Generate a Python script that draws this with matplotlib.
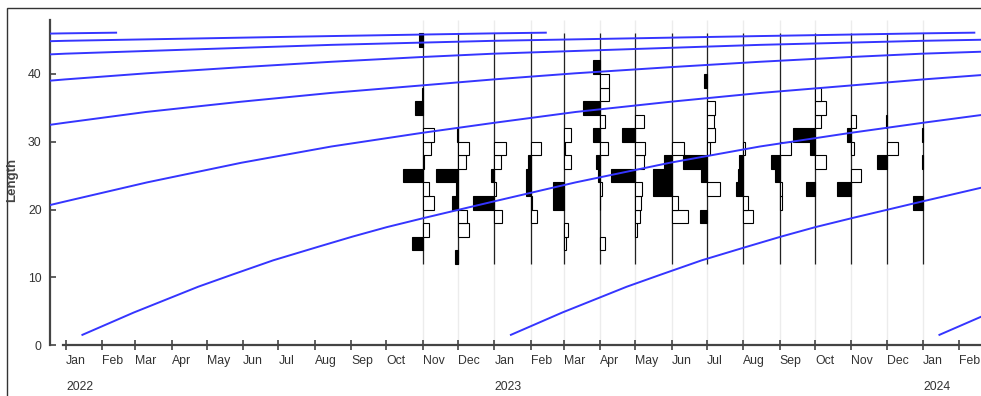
import datetime as dt
import numpy as np
import matplotlib
matplotlib.use("Agg")
import matplotlib.pyplot as plt
import matplotlib.dates as mdates
from matplotlib.transforms import blended_transform_factory
from matplotlib.patches import Rectangle

plt.rcParams['font.family'] = ['Liberation Sans Narrow', 'Liberation Sans', 'DejaVu Sans']

# monthly samples, Nov 2022 .. Jan 2024
sample_dates = [dt.date(2022, 11, 1), dt.date(2022, 12, 1), dt.date(2023, 1, 1),
                dt.date(2023, 2, 1), dt.date(2023, 3, 1), dt.date(2023, 4, 1),
                dt.date(2023, 5, 1), dt.date(2023, 6, 1), dt.date(2023, 7, 1),
                dt.date(2023, 8, 1), dt.date(2023, 9, 1), dt.date(2023, 10, 1),
                dt.date(2023, 11, 1), dt.date(2023, 12, 1), dt.date(2024, 1, 1)]

# length classes (lower bound, cm), width 2
bin_lower = list(range(12, 46, 2))
bin_width = 2

# restructured frequencies per sample, classes 12-14 ... 44-46
scores = [
    [0, 0.50, -0.26, 0, -0.51, -0.26, 0.92, -0.07, -0.36, -0.49, 0, 0.35, 0.05, 0, 0, 0, 0.17],   # Nov 22
    [0.14, 0, -0.50, -0.40, 0.29, 0.09, 0.99, -0.35, -0.50, 0.07, 0, 0, 0, 0, 0, 0, 0],          # Dec 22
    [0, 0, 0, -0.33, 1.00, -0.09, 0.18, -0.30, -0.53, 0, 0, 0, 0, 0, 0, 0, 0],                   # Jan 23
    [0, 0, 0, -0.26, -0.06, 0.24, 0.21, 0.12, -0.47, 0, 0, 0, 0, 0, 0, 0, 0],                    # Feb 23
    [0, -0.09, -0.18, 0, 0.47, 0.47, 0, -0.33, -0.04, -0.33, 0, 0, 0, 0, 0, 0, 0],               # Mar 23
    [0, -0.23, 0, 0, 0.02, -0.10, 0.10, 0.17, -0.35, 0.33, -0.24, 0.79, -0.40, -0.40, 0.33, 0, 0],  # Apr 23
    [0, 0, -0.07, -0.21, -0.24, -0.29, 1.10, -0.40, -0.45, 0.62, -0.41, 0, 0, 0, 0, 0, 0],       # May 23
    [0, 0, 0, -0.73, -0.27, 0.86, 0.86, 0.36, -0.58, 0, 0, 0, 0, 0, 0, 0, 0],                    # Jun 23
    [0, 0, 0, 0.33, 0, -0.58, 0.26, 1.09, -0.12, -0.38, -0.32, -0.35, 0, 0.14, 0, 0, 0],         # Jul 23
    [0, 0, 0, -0.42, -0.20, 0.33, 0.26, 0.18, -0.09, 0, 0, 0, 0, 0, 0, 0, 0],                    # Aug 23
    [0, 0, 0, 0, -0.08, -0.10, 0.23, 0.42, -0.50, 0, 0, 0, 0, 0, 0, 0, 0],                       # Sep 23
    [0, 0, 0, 0, 0, 0.40, 0, -0.49, 0.24, 1.00, -0.29, -0.51, -0.29, 0, 0, 0, 0],                # Oct 23
    [0, 0, 0, 0, 0, 0.64, -0.42, 0, -0.10, 0.18, -0.20, 0, 0, 0, 0, 0, 0],                       # Nov 23
    [0, 0, 0, 0, 0, 0, 0, 0.45, -0.53, 0, 0.03, 0, 0, 0, 0, 0, 0],                               # Dec 23
    [0, 0, 0, 0, 0.44, 0, 0, 0.05, 0, 0.04, 0, 0, 0, 0, 0, 0, 0],                                # Jan 24
]
bar_days = 18.7   # days of x-axis per unit score

# growth curve: length at age (years after recruitment on 15 Jan)
age_yr = [0.0, 0.12, 0.27, 0.35, 0.445, 0.55, 0.63, 0.71, 0.80, 0.88, 0.96,
          1.15, 1.37, 1.58, 1.79, 1.96, 2.15, 2.37, 2.58, 2.79, 2.96,
          3.15, 3.37, 3.58, 3.79, 3.96, 4.58, 4.96, 5.58, 5.96, 6.08]
len_cm = [1.5, 4.8, 8.6, 10.4, 12.5, 14.5, 16.0, 17.4, 18.8, 20.0, 21.2,
          24.0, 26.9, 29.3, 31.3, 32.8, 34.4, 35.9, 37.2, 38.3, 39.2,
          40.1, 41.0, 41.8, 42.5, 43.0, 44.3, 44.9, 45.6, 46.0, 46.1]
cohort_years = [2016, 2017, 2018, 2019, 2020, 2021, 2022, 2023, 2024]

month_ticks = [dt.date(2022 + (m // 12), m % 12 + 1, 1) for m in range(0, 26)]
year_labels = [2022, 2023, 2024]

fig = plt.figure(figsize=(9.81, 3.96), dpi=100)
ax = fig.add_axes([50 / 981, 51 / 396, 931 / 981, 325.2 / 396])

t0 = mdates.date2num(dt.date(2022, 1, 1))
ax.set_xlim(t0 - 13.6, t0 + 779.4)
ax.set_ylim(0, 48)

xs = mdates.date2num(sample_dates)

# faint guide lines at sample dates
ax.vlines(xs, 0, 48, color='#ececec', lw=1, zorder=0)
# sample axes
ax.vlines(xs, bin_lower[0], bin_lower[-1] + bin_width, color='#222222', lw=0.9, zorder=2)

for x, row in zip(xs, scores):
    for lo, v in zip(bin_lower, row):
        if v == 0:
            continue
        ax.barh(lo + bin_width / 2, -v * bar_days, left=x, height=bin_width,
                color='black' if v > 0 else 'white', edgecolor='black',
                linewidth=0.8, zorder=3)

for yr in cohort_years:
    start = mdates.date2num(dt.date(yr, 1, 15))
    ax.plot(start + np.array(age_yr) * 365.25, len_cm, color='#3535ff', lw=1.4, zorder=4)

for s in ['top', 'right']:
    ax.spines[s].set_visible(False)
for s in ['left', 'bottom']:
    ax.spines[s].set_color('#444444')
    ax.spines[s].set_linewidth(1.6)
ax.spines['left'].set_bounds(0, 48)
ax.spines['bottom'].set_bounds(t0 - 2.6, t0 + 779.4)

ax.set_yticks([0, 10, 20, 30, 40])
ax.set_xticks(mdates.date2num(month_ticks))
ax.set_xticklabels([d.strftime('%b') for d in month_ticks], ha='left')
ax.tick_params(axis='x', direction='inout', length=7, width=1.2, color='#444444',
               labelsize=8.8, labelcolor='#333333', pad=4)
ax.tick_params(axis='y', direction='in', length=4, width=1.2, color='#444444',
               labelsize=8.8, labelcolor='#333333', pad=6)

trans = blended_transform_factory(ax.transData, fig.transFigure)
for yr in year_labels:
    ax.text(mdates.date2num(dt.date(yr, 1, 1)), 1 - 386.5 / 396, str(yr), transform=trans,
            ha='left', va='center', fontsize=8.8, color='#333333')

fig.text(12 / 981, 1 - 180 / 396, 'Length', rotation=90, ha='center', va='center',
         fontsize=9.5, fontweight='bold', color='#444444')

fig.patches.append(Rectangle((7 / 981, -0.1), 1.2, 388 / 396 + 0.1, transform=fig.transFigure,
                             fill=False, edgecolor='#333333', lw=1))

fig.savefig('out.png', dpi=100)
